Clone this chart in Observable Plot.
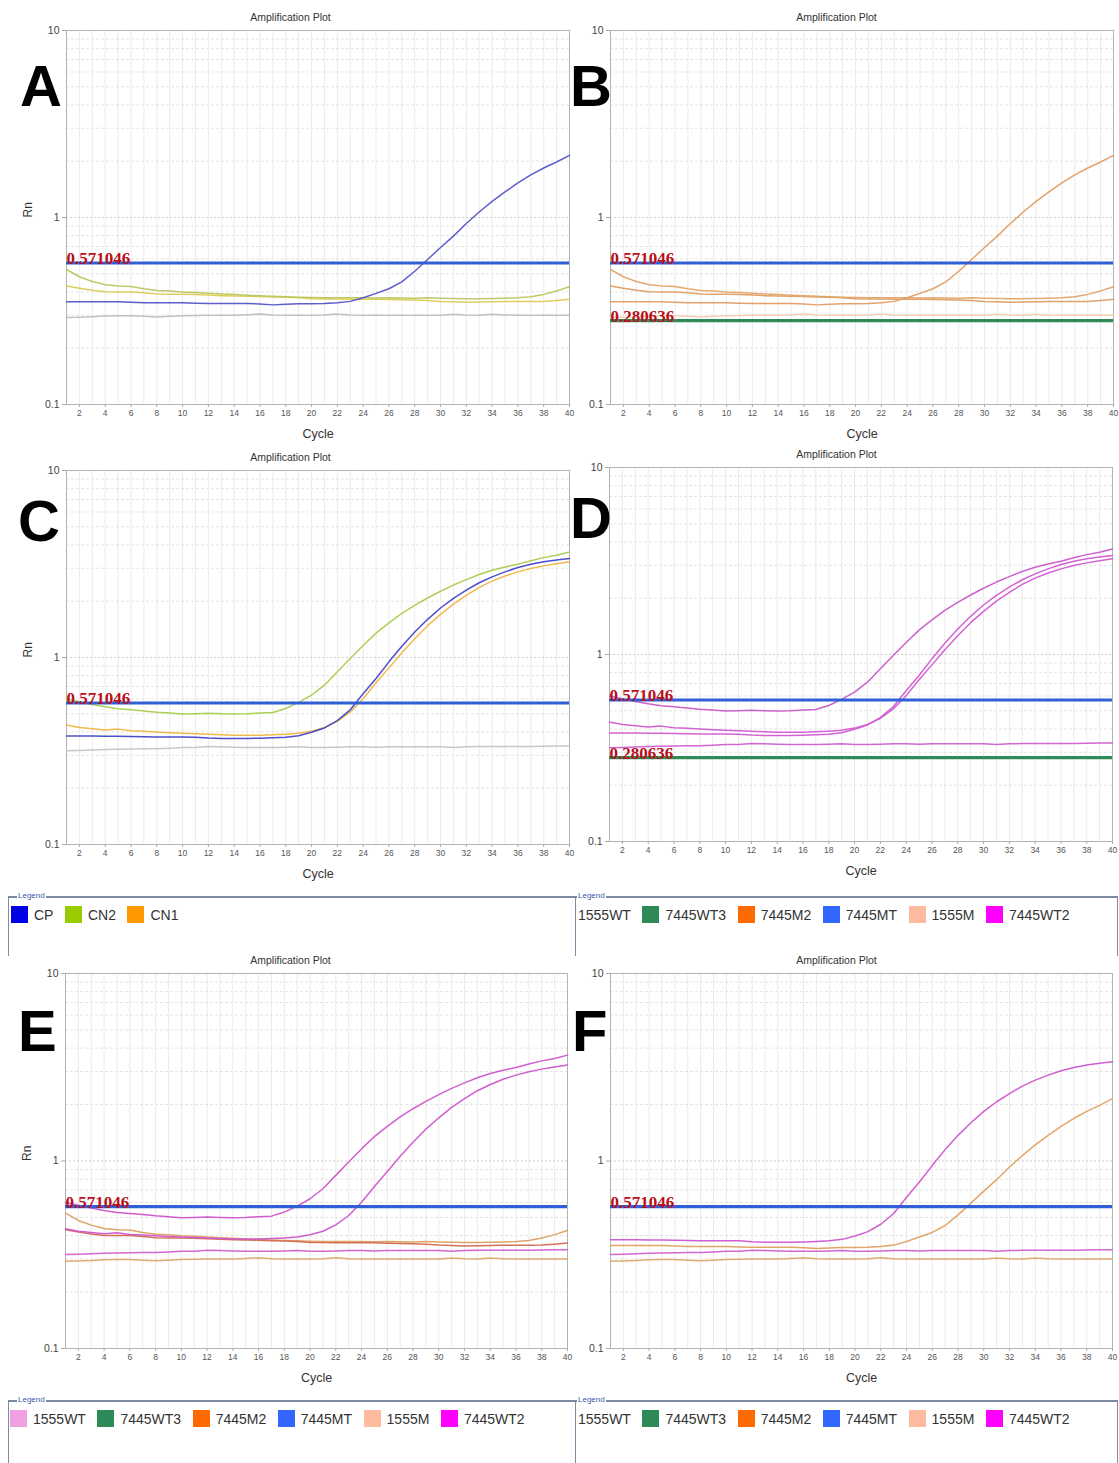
<!DOCTYPE html>
<html><head><meta charset="utf-8">
<script src="https://cdn.jsdelivr.net/npm/d3@7"></script>
<script src="https://cdn.jsdelivr.net/npm/@observablehq/plot@0.6"></script>
<style>
body{margin:0;background:#fff;}
#root{position:relative;width:1119px;height:1463px;overflow:hidden;background:#fff;font-family:"Liberation Sans",Arial,sans-serif;}
.abs{position:absolute;}
.letter{position:absolute;font-family:"Liberation Sans",Arial,sans-serif;font-weight:bold;font-size:58px;line-height:58px;color:#000;}
.box{position:absolute;border-top:2px solid #7d8ca3;box-sizing:border-box;}
.boxlbl{position:absolute;top:-7px;font-size:8px;color:#3a58a8;background:#fff;padding:0 1px;line-height:10px;}
.row{position:absolute;display:flex;align-items:center;white-space:nowrap;font-size:14px;color:#333;}
.sw{width:17px;height:17px;margin-right:6px;flex:none;}
.lb{margin-right:11.5px;}
.clip{position:absolute;overflow:hidden;}
</style></head><body><div id="root"></div>
<script>
// ---- data (Rn per cycle 1..40) ----
const cycles = d3.range(1, 41);
const cpA  = [0.354,0.354,0.354,0.354,0.354,0.352,0.350,0.350,0.350,0.350,0.348,0.347,0.347,0.347,0.347,0.345,0.341,0.344,0.346,0.346,0.347,0.350,0.356,0.372,0.393,0.416,0.453,0.516,0.596,0.691,0.795,0.929,1.07,1.22,1.37,1.53,1.69,1.84,1.98,2.15];
const cn2A = [0.527,0.482,0.455,0.437,0.430,0.428,0.416,0.407,0.404,0.399,0.397,0.393,0.390,0.387,0.384,0.381,0.379,0.377,0.375,0.373,0.372,0.372,0.372,0.372,0.371,0.372,0.371,0.370,0.372,0.370,0.369,0.368,0.368,0.369,0.370,0.372,0.377,0.388,0.405,0.426];
const cn1A = [0.430,0.418,0.408,0.401,0.400,0.400,0.396,0.390,0.389,0.389,0.387,0.385,0.382,0.380,0.379,0.378,0.376,0.374,0.372,0.368,0.367,0.367,0.366,0.366,0.366,0.364,0.363,0.362,0.360,0.356,0.354,0.352,0.353,0.354,0.355,0.355,0.355,0.356,0.360,0.365];
const grayA= [0.292,0.293,0.295,0.297,0.298,0.298,0.296,0.294,0.296,0.298,0.299,0.300,0.300,0.300,0.302,0.305,0.301,0.300,0.300,0.300,0.301,0.305,0.301,0.300,0.300,0.300,0.300,0.300,0.300,0.300,0.304,0.301,0.300,0.304,0.301,0.300,0.300,0.300,0.300,0.300];
const cpC  = [0.380,0.380,0.380,0.379,0.379,0.378,0.377,0.376,0.376,0.376,0.375,0.371,0.369,0.369,0.369,0.370,0.372,0.375,0.382,0.398,0.420,0.460,0.525,0.640,0.772,0.948,1.15,1.37,1.60,1.84,2.07,2.29,2.51,2.70,2.87,3.03,3.15,3.25,3.32,3.38];
const cn2C = [0.600,0.580,0.561,0.545,0.532,0.525,0.518,0.510,0.505,0.498,0.500,0.503,0.500,0.498,0.500,0.505,0.508,0.534,0.575,0.629,0.711,0.838,0.988,1.16,1.35,1.53,1.72,1.90,2.08,2.26,2.44,2.61,2.78,2.93,3.05,3.15,3.29,3.42,3.52,3.67];
const cn1C = [0.435,0.422,0.416,0.409,0.414,0.406,0.403,0.399,0.396,0.393,0.391,0.389,0.386,0.384,0.384,0.384,0.386,0.389,0.393,0.404,0.422,0.456,0.512,0.602,0.732,0.880,1.06,1.26,1.48,1.70,1.93,2.15,2.37,2.56,2.73,2.87,2.99,3.09,3.17,3.25];
const grayC= [0.317,0.318,0.320,0.322,0.323,0.324,0.325,0.325,0.327,0.330,0.330,0.334,0.333,0.331,0.330,0.330,0.330,0.331,0.333,0.330,0.330,0.331,0.333,0.333,0.331,0.333,0.333,0.333,0.333,0.333,0.330,0.333,0.334,0.334,0.334,0.334,0.334,0.335,0.336,0.336];
const thresholds = [0.571046, 0.280636];
const yTicks = [0.1, 1, 10];
const xTicks = d3.range(2, 41, 2);
const legendTop = ["CP", "CN2", "CN1"];
const legendMain = ["1555WT", "7445WT3", "7445M2", "7445MT", "1555M", "7445WT2"];

// ---- styling / layout ----
const seriesData = {cpA, cn2A, cn1A, grayA, cpC, cn2C, cn1C, grayC};
const thColors = ["#2f5fd6", "#2e8b57"];
const legendTopColors = ["#0000e6", "#99cc00", "#ff9900"];
const legendMainColors = ["#f0a0e0", "#2e8b57", "#ff6a00", "#3366ff", "#ffbba0", "#ff00ff"];

const panels = [
 {letter:"A", frame:[66,569,30,404], titleX:290, rn:true, L:[20,57],
  lines:[["grayA","#bdbdc6"],["cn1A","#dccb55"],["cn2A","#b9c65c"],["cpA","#5555c8"]], th:[0]},
 {letter:"B", frame:[610,1113,30,404], titleX:836, rn:false, L:[570,57],
  lines:[["grayA","#f0cfae"],["cn1A","#dd9d62"],["cn2A","#e3a468"],["cpA","#e39d62"]], th:[0,1]},
 {letter:"C", frame:[66,569,470,844], titleX:290, rn:true, L:[18,492],
  lines:[["grayC","#c4c4cc"],["cn1C","#f0b545"],["cn2C","#a9cc4f"],["cpC","#4545c8"]], th:[0]},
 {letter:"D", frame:[609,1112,467,841], titleX:836, rn:false, L:[570,489],
  lines:[["grayC","#d05fd0"],["cn1C","#d25ad2"],["cn2C","#c85ac8"],["cpC","#d25ad2"]], th:[0,1]},
 {letter:"E", frame:[65,567,973,1348], titleX:290, rn:true, L:[18,1002],
  lines:[["grayA","#dca868"],["grayC","#d060d0"],["cn2A","#dca060"],["cn1A","#d26a50"],["cn1C","#cf55cf"],["cn2C","#cf55cf"]], th:[0]},
 {letter:"F", frame:[610,1112,973,1348], titleX:836, rn:false, L:[572,1002],
  lines:[["grayA","#dca868"],["grayC","#d060d0"],["cpA","#e0a060"],["cpC","#cf55cf"]], th:[0]}
];

const root = document.getElementById("root");
const mL = 50, mR = 12, mT = 24, mB = 44;
const minorGrid = [0.2,0.3,0.4,0.5,0.6,0.7,0.8,0.9,2,3,4,5,6,7,8,9];

for (const p of panels) {
  const [fl, fr, ft, fb] = p.frame;
  const W = fr - fl, H = fb - ft;
  const marks = [
    Plot.ruleX(d3.range(2, 40), {stroke: "#ebebeb", strokeWidth: 1}),
    Plot.ruleY(minorGrid, {stroke: "#e4e4e4", strokeDasharray: "3,2"}),
    Plot.ruleY([1], {stroke: "#cccccc", strokeDasharray: "2,2"}),
    Plot.frame({stroke: "#b3b3b3"}),
    Plot.axisX(xTicks, {tickSize: 3, tickPadding: 2, fontSize: 8.5, fill: "#555", stroke: "#aaa", label: null}),
    Plot.axisY(yTicks, {tickSize: 4, tickPadding: 3, fontSize: 10.5, fill: "#444", stroke: "#aaa", label: null,
      tickFormat: d => d === 0.1 ? "0.1" : String(d)}),
    Plot.text(["Cycle"], {frameAnchor: "bottom", lineAnchor: "middle", dy: 29, fontSize: 12.5, fill: "#333"}),
    Plot.text(["Amplification Plot"], {frameAnchor: "top", lineAnchor: "middle", dy: -13, dx: p.titleX - (fl + fr) / 2, fontSize: 10.5, fill: "#333"})
  ];
  if (p.rn) marks.push(Plot.text(["Rn"], {frameAnchor: "left", lineAnchor: "middle", dx: -38, rotate: -90, fontSize: 12, fill: "#333"}));
  for (const [key, color] of p.lines) {
    const arr = seriesData[key];
    marks.push(Plot.line(cycles.map((c, i) => ({cycle: c, rn: arr[i]})),
      {x: "cycle", y: "rn", stroke: color, strokeWidth: 1.5, strokeOpacity: 0.95}));
  }
  for (const ti of p.th) {
    marks.push(Plot.ruleY([thresholds[ti]], {stroke: thColors[ti], strokeWidth: 3.2}));
    marks.push(Plot.text([thresholds[ti]], {x: 1, y: d => d, text: d => String(d), textAnchor: "start",
      lineAnchor: "bottom", dy: 1, fill: "#b8101c", fontSize: 17, fontWeight: "bold",
      fontFamily: "'Liberation Serif', 'Times New Roman', serif"}));
  }
  const svg = Plot.plot({
    width: W + mL + mR, height: H + mT + mB,
    marginLeft: mL, marginRight: mR, marginTop: mT, marginBottom: mB,
    x: {domain: [1, 40]},
    y: {type: "log", domain: [0.1, 10]},
    style: {background: "transparent", overflow: "visible", maxWidth: "none", fontFamily: "'Liberation Sans', Arial, sans-serif"},
    marks
  });
  const holder = document.createElement("div");
  holder.className = "abs";
  holder.style.left = (fl - mL) + "px";
  holder.style.top = (ft - mT) + "px";
  holder.appendChild(svg);
  root.appendChild(holder);
}
for (const p of panels) {
  const d = document.createElement("div");
  d.className = "letter";
  d.textContent = p.letter;
  d.style.left = p.L[0] + "px";
  d.style.top = p.L[1] + "px";
  root.appendChild(d);
}

// ---- legends ----
function makeRow(names, colors) {
  const row = document.createElement("div");
  row.className = "row";
  names.forEach((n, i) => {
    const s = document.createElement("div"); s.className = "sw"; s.style.background = colors[i];
    const t = document.createElement("span"); t.className = "lb"; t.textContent = n;
    row.appendChild(s); row.appendChild(t);
  });
  return row;
}
function makeBox(left, top, width, height, names, colors, rowLeft, rowTop, sides) {
  const clip = document.createElement("div");
  clip.className = "clip";
  clip.style.left = left + "px"; clip.style.top = (top - 8) + "px";
  clip.style.width = width + "px"; clip.style.height = (height + 8) + "px";
  const box = document.createElement("div");
  box.className = "box";
  box.style.left = "0px"; box.style.top = "8px"; box.style.width = width + "px"; box.style.height = height + "px";
  if (sides.left) box.style.borderLeft = "1px solid #7d8ca3";
  if (sides.right) box.style.borderRight = "1px solid #7d8ca3";
  clip.appendChild(box);
  const lbl = document.createElement("div");
  lbl.className = "boxlbl"; lbl.textContent = "Legend";
  lbl.style.left = sides.lblLeft + "px"; lbl.style.top = "3px";
  clip.appendChild(lbl);
  const row = makeRow(names, colors);
  row.style.left = rowLeft + "px"; row.style.top = (rowTop + 8) + "px";
  clip.appendChild(row);
  root.appendChild(clip);
}
// middle legends
makeBox(8, 896, 568, 60, legendTop, legendTopColors, 3, 10, {left: true, right: true, lblLeft: 9});
makeBox(576, 896, 542, 60, legendMain, legendMainColors, -21, 10, {left: false, right: true, lblLeft: 1});
// bottom legends
makeBox(8, 1400, 568, 70, legendMain, legendMainColors, 2, 10, {left: true, right: true, lblLeft: 9});
makeBox(576, 1400, 542, 70, legendMain, legendMainColors, -21, 10, {left: false, right: true, lblLeft: 1});
</script>
</body></html>
